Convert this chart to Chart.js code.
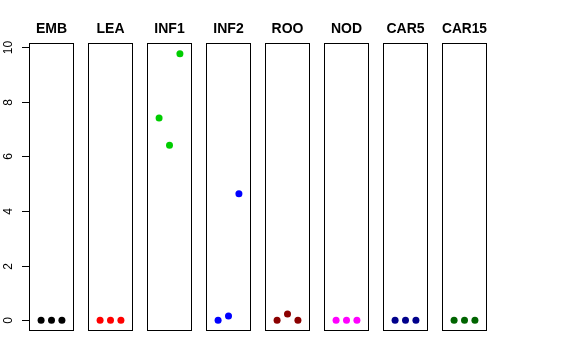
<!DOCTYPE html>
<html lang="en">
<head>
  <meta charset="UTF-8" />
  <title>Panels</title>
  <script src="https://cdn.jsdelivr.net/npm/chart.js"></script>
  <style>
    body {
      margin: 0;
      background-color: #ffffff;
    }
    #wrap {
      position: relative;
      width: 576px;
      height: 360px;
    }
    canvas {
      position: absolute;
      top: 0;
      left: 0;
    }
  </style>
</head>
<body>
  <div id="wrap"></div>

  <script>
    // data
    const panels = ['EMB', 'LEA', 'INF1', 'INF2', 'ROO', 'NOD', 'CAR5', 'CAR15'];
    const xPositions = [1, 2, 3];
    const EMB = [0, 0, 0];
    const LEA = [0, 0, 0];
    const INF1 = [7.4, 6.4, 9.75];
    const INF2 = [0, 0.16, 4.63];
    const ROO = [0, 0.23, 0];
    const NOD = [0, 0, 0];
    const CAR5 = [0, 0, 0];
    const CAR15 = [0, 0, 0];
    const yTicks = [0, 2, 4, 6, 8, 10];

    const seriesValues = [EMB, LEA, INF1, INF2, ROO, NOD, CAR5, CAR15];
    const colors = ['#000000', '#ff0000', '#00cd00', '#0000ff', '#8b0000', '#ff00ff', '#00008b', '#006400'];

    const W = 576, H = 360;
    const firstLeft = 29, step = 59, boxW = 45;
    const fontFamily = "'Liberation Sans', Arial, Helvetica, sans-serif";

    // box round each panel, y axis on the first one
    const panelPlugin = {
      id: 'panelBox',
      afterDatasetsDraw(chart, args, opts) {
        const ctx = chart.ctx;
        const a = chart.chartArea;
        ctx.save();
        ctx.strokeStyle = '#000';
        ctx.lineWidth = 1;
        ctx.strokeRect(a.left + 0.5, a.top + 0.5, a.right - a.left - 1, a.bottom - a.top - 1);
        if (opts.showAxis) {
          const y = chart.scales.y;
          ctx.fillStyle = '#000';
          ctx.font = '12px ' + fontFamily;
          ctx.textAlign = 'center';
          ctx.textBaseline = 'middle';
          yTicks.forEach(t => {
            const py = Math.round(y.getPixelForValue(t)) + 0.5;
            ctx.beginPath();
            ctx.moveTo(a.left - 7, py);
            ctx.lineTo(a.left, py);
            ctx.stroke();
            ctx.save();
            ctx.translate(a.left - 20.5, py);
            ctx.rotate(-Math.PI / 2);
            ctx.fillText(String(t), 0, 0);
            ctx.restore();
          });
        }
        ctx.restore();
      }
    };

    const wrap = document.getElementById('wrap');

    panels.forEach((name, i) => {
      const canvas = document.createElement('canvas');
      canvas.width = W;
      canvas.height = H;
      wrap.appendChild(canvas);

      const left = firstLeft + step * i;

      new Chart(canvas.getContext('2d'), {
        type: 'scatter',
        data: {
          datasets: [{
            data: xPositions.map((x, k) => ({ x: x, y: seriesValues[i][k] })),
            backgroundColor: colors[i],
            borderColor: colors[i],
            borderWidth: 0,
            pointRadius: 3.5,
            pointHoverRadius: 3.5
          }]
        },
        options: {
          responsive: false,
          animation: false,
          devicePixelRatio: 1,
          layout: {
            padding: { left: left, right: W - left - boxW, top: 0, bottom: 29 }
          },
          plugins: {
            legend: { display: false },
            tooltip: { enabled: false },
            title: {
              display: true,
              fullSize: false,
              text: name,
              color: '#000',
              font: { family: fontFamily, size: 14, weight: 'bold', lineHeight: 1.2 },
              padding: { top: 21, bottom: 5.2 }
            },
            panelBox: { showAxis: i === 0 }
          },
          scales: {
            x: { type: 'linear', display: false, min: -0.16, max: 4.16 },
            y: { type: 'linear', display: false, min: -0.39, max: 10.14 }
          }
        },
        plugins: [panelPlugin]
      });
    });
  </script>
</body>
</html>
